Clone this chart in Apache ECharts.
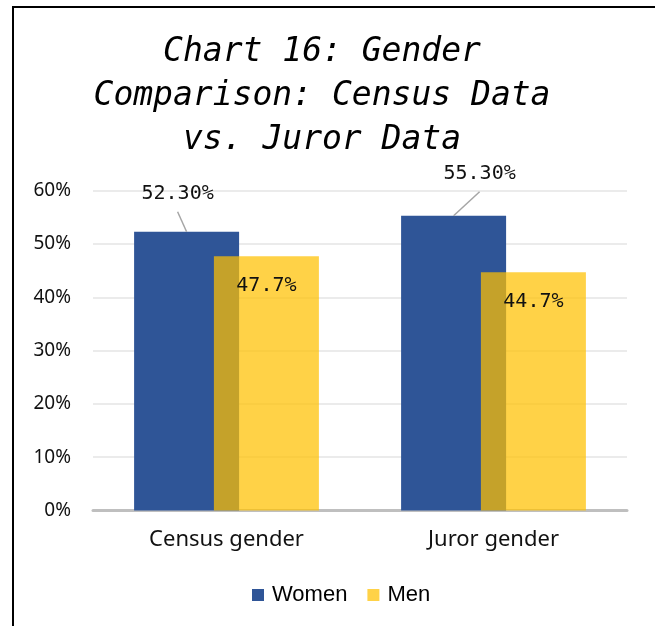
<!DOCTYPE html>
<html>
<head>
<meta charset="utf-8">
<script src="https://cdn.jsdelivr.net/npm/echarts@6/dist/echarts.min.js"></script>
<style>
	html, body { margin: 0; padding: 0; background: #fff; }
	#chart { width: 655px; height: 626px; }
</style>
</head>
<body>
<div id="chart"></div>
<script>
var categories = ['Census gender', 'Juror gender'];
var women = [52.3, 55.3];
var men = [47.7, 44.7];
var yTicks = [0, 10, 20, 30, 40, 50, 60];

window.onload = function () {
	"use strict";
	var chart = echarts.init(document.getElementById('chart'));

	var barWidth = 105;
	var barGap = -0.24;
	// where the women labels sit, moved off the bar top (like the original)
	var womenLabelShift = [[-9, -23], [26, -27]];

	var option = {
		animation: false,
		backgroundColor: '#fff',
		title: {
			text: 'Chart 16: Gender\nComparison: Census Data\nvs. Juror Data',
			left: 317,
			top: 25,
			textAlign: 'center',
			textStyle: {
				fontFamily: 'DejaVu Sans Mono',
				fontStyle: 'italic',
				fontWeight: 'normal',
				fontSize: 33,
				lineHeight: 44,
				color: '#000'
			}
		},
		legend: {
			left: 247,
			top: 579,
			itemWidth: 12,
			itemHeight: 12,
			itemGap: 20,
			icon: 'rect',
			textStyle: {
				fontFamily: 'Liberation Sans',
				fontSize: 22,
				color: '#000',
				padding: [0, 0, 0, 3]
			},
			data: ['Women', 'Men']
		},
		grid: {
			left: 93,
			right: 28,
			top: 190.7,
			bottom: 115.5
		},
		xAxis: {
			type: 'category',
			data: categories,
			axisTick: { show: false },
			axisLine: { lineStyle: { color: '#bfbfbf', width: 3 } },
			axisLabel: {
				margin: 18,
				fontFamily: 'Noto Sans',
				fontSize: 22,
				color: '#111'
			}
		},
		yAxis: {
			type: 'value',
			min: yTicks[0],
			max: yTicks[yTicks.length - 1],
			interval: 10,
			axisLine: { show: false },
			axisTick: { show: false },
			splitLine: { lineStyle: { color: '#ebebeb', width: 2 } },
			axisLabel: {
				margin: 22,
				fontFamily: 'Noto Sans',
				fontSize: 19,
				color: '#111',
				formatter: '{value}%'
			}
		},
		series: [{
			name: 'Women',
			type: 'bar',
			data: women,
			barWidth: barWidth,
			barGap: (barGap * 100) + '%',
			itemStyle: { color: '#2f5597' },
			label: {
				show: true,
				position: 'top',
				distance: 5,
				fontFamily: 'DejaVu Sans Mono',
				fontSize: 20,
				color: '#111',
				formatter: function (p) { return p.value.toFixed(2) + '%'; }
			},
			labelLayout: function (p) {
				var s = womenLabelShift[p.dataIndex];
				return { dx: s[0], dy: s[1] };
			}
		}, {
			name: 'Men',
			type: 'bar',
			data: men,
			barWidth: barWidth,
			itemStyle: { color: 'rgba(255,192,0,0.72)' },
			label: {
				show: true,
				position: 'insideTop',
				distance: 20,
				fontFamily: 'DejaVu Sans Mono',
				fontSize: 20,
				color: '#111',
				formatter: function (p) { return p.value.toFixed(1) + '%'; }
			}
		}]
	};

	chart.setOption(option);

	// leader lines from the moved labels down to the middle of each women bar
	var groupWidth = barWidth * 2 + barWidth * barGap;
	var lines = [];
	women.forEach(function (v, i) {
		var top = chart.convertToPixel({ gridIndex: 0 }, [i, v]);
		var barX = top[0] - groupWidth / 2 + barWidth / 2;
		var s = womenLabelShift[i];
		lines.push({
			type: 'line',
			silent: true,
			z: 10,
			shape: { x1: barX + s[0], y1: top[1] + 3 + s[1], x2: barX, y2: top[1] },
			style: { stroke: '#a6a6a6', lineWidth: 1.5 }
		});
	});
	chart.setOption({
		graphic: [{
			type: 'rect',
			silent: true,
			shape: { x: 13, y: 7, width: 800, height: 800 },
			style: { fill: 'none', stroke: '#000', lineWidth: 2 }
		}].concat(lines)
	});
};
</script>
</body>
</html>
